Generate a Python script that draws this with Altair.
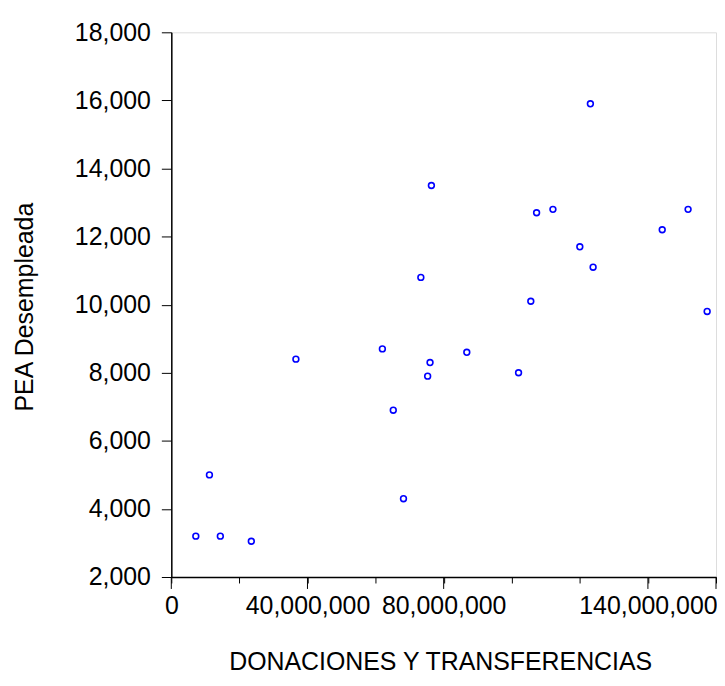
import altair as alt
import pandas as pd

# Values (x in units, y in persons)
donaciones = [123.1e6, 76.4e6, 107.3e6, 112.1e6, 151.8e6, 144.2e6, 120.0e6, 123.9e6,
              73.3e6, 105.6e6, 157.4e6, 36.6e6, 62.0e6, 86.8e6, 76.0e6, 75.3e6,
              102.0e6, 65.2e6, 11.2e6, 68.2e6, 7.2e6, 14.4e6, 23.5e6]
pea = [15900, 13500, 12700, 12800, 12800, 12200, 11700, 11100,
       10800, 10100, 9800, 8400, 8700, 8600, 8300, 7900,
       8000, 6900, 5000, 4300, 3200, 3200, 3050]

x_ticks = [0, 20e6, 40e6, 60e6, 80e6, 100e6, 120e6, 140e6, 160e6]
x_labelled = [0, 40e6, 80e6, 140e6, 160e6]
y_ticks = [2000, 4000, 6000, 8000, 10000, 12000, 14000, 16000, 18000]

df = pd.DataFrame({"x": donaciones, "y": pea})
major = pd.DataFrame({"x": x_labelled})

FONT = "Liberation Sans"
W, H = 547, 547

label_test = " || ".join(f"datum.value == {v}" for v in x_labelled[:-1])

xscale = alt.Scale(domain=[0, 160e6], nice=False, zero=False)
yscale = alt.Scale(domain=[2000, 18000], nice=False, zero=False)

points = alt.Chart(df).mark_point(
    shape="circle", filled=False, color="#0000FF", size=34, strokeWidth=1.6, opacity=1
).encode(
    x=alt.X("x:Q", scale=xscale,
            axis=alt.Axis(values=x_ticks, format=",.0f", title="DONACIONES Y TRANSFERENCIAS",
                          labelExpr=f"({label_test}) ? format(datum.value, ',.0f') : ''",
                          grid=False, tickSize=6, tickColor="black", domainColor="black",
                          tickWidth=1, domainWidth=1.5,
                          labelFont=FONT, labelFontSize=25, labelColor="black", labelPadding=11,
                          labelOverlap=False, labelFlush=False,
                          titleFont=FONT, titleFontSize=25, titleFontWeight="normal",
                          titleColor="black", titleBaseline="middle", titleX=270, titleY=85)),
    y=alt.Y("y:Q", scale=yscale,
            axis=alt.Axis(values=y_ticks, format=",.0f", title="PEA Desempleada",
                          grid=False, tickSize=10, tickColor="black", domainColor="black",
                          tickWidth=1, domainWidth=1.5,
                          labelFont=FONT, labelFontSize=25, labelColor="black", labelPadding=11,
                          labelOverlap=False, labelFlush=False,
                          titleFont=FONT, titleFontSize=25, titleFontWeight="normal",
                          titleColor="black", titleBaseline="middle", titleX=-147, titleY=H / 2 + 2)),
)

major_ticks = alt.Chart(major).mark_rule(color="black", strokeWidth=1, clip=False).encode(
    x=alt.X("x:Q", scale=xscale),
    y=alt.value(H),
    y2=alt.value(H + 12),
)

chart = alt.layer(points, major_ticks).properties(
    width=W, height=H,
    autosize=alt.AutoSizeParams(type="none"),
    padding={"left": 164, "top": 23, "right": 1, "bottom": 98},
).configure_view(
    stroke="black", strokeWidth=1.5
).configure(background="white")

chart.save("out.html", embed_options={"renderer": "svg", "actions": False})
